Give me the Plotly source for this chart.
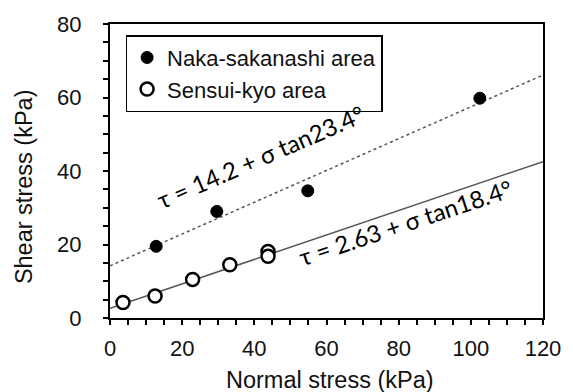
import plotly.graph_objects as go

# Data
naka_x = [12.8, 29.6, 54.8, 102.5]
naka_y = [19.5, 29.0, 34.6, 59.8]
sensui_x = [3.6, 12.5, 22.9, 33.2, 43.8, 43.8]
sensui_y = [4.2, 6.0, 10.5, 14.5, 18.1, 16.8]

fit_x = [0, 120]
naka_fit_y = [14.2, 66.1]
sensui_fit_y = [2.63, 42.55]

naka_label = "τ = 14.2 + σ tan23.4°"
sensui_label = "τ = 2.63 + σ tan18.4°"

FONT = "Liberation Sans, Arial, sans-serif"
EQFONT = "Lato, Carlito, Calibri, sans-serif"

fig = go.Figure()
fig.add_trace(go.Scatter(x=fit_x, y=naka_fit_y, mode="lines", showlegend=False,
                         line=dict(color="#555555", width=1.5, dash="3px,3px"), hoverinfo="skip"))
fig.add_trace(go.Scatter(x=fit_x, y=sensui_fit_y, mode="lines", showlegend=False,
                         line=dict(color="#555555", width=1.5), hoverinfo="skip"))
fig.add_trace(go.Scatter(x=naka_x, y=naka_y, mode="markers", name="Naka-sakanashi area",
                         marker=dict(symbol="circle", size=12, color="black",
                                     line=dict(color="black", width=1))))
fig.add_trace(go.Scatter(x=sensui_x, y=sensui_y, mode="markers", name="Sensui-kyo area",
                         marker=dict(symbol="circle", size=13, color="white",
                                     line=dict(color="black", width=2.5))))

axis_common = dict(
    showgrid=False, zeroline=False, showline=True, linecolor="black", linewidth=2,
    mirror=True, ticks="outside", ticklen=5, tickwidth=1.5, tickcolor="black",
    tickfont=dict(family=FONT, size=22, color="#111111"),
    minor=dict(ticks="outside", ticklen=5, tickwidth=1.5, tickcolor="black", dtick=5),
)

fig.update_xaxes(range=[0, 120], dtick=20, tick0=0, ticklabelstandoff=5, **axis_common)
fig.update_yaxes(range=[0, 80], dtick=20, tick0=0, ticklabelstandoff=17, **axis_common)

fig.add_annotation(text=naka_label, x=41.8, y=44.0, xref="x", yref="y", showarrow=False,
                   textangle=-23.4, font=dict(family=EQFONT, size=24, color="black"))
fig.add_annotation(text=sensui_label, x=81.8, y=26.0, xref="x", yref="y", showarrow=False,
                   textangle=-18.4, font=dict(family=EQFONT, size=24, color="black"))

fig.add_annotation(text="Shear stress (kPa)", xref="paper", yref="paper", x=-0.199, y=0.448,
                   showarrow=False, textangle=-90, xanchor="center", yanchor="middle",
                   font=dict(family=FONT, size=23.5, color="#111111"))
fig.add_annotation(text="Normal stress (kPa)", xref="paper", yref="paper", x=0.507, y=-0.212,
                   showarrow=False, xanchor="center", yanchor="middle",
                   font=dict(family=FONT, size=23.5, color="#111111"))

fig.update_layout(
    width=573, height=392,
    margin=dict(l=110, r=20, t=23, b=74),
    plot_bgcolor="white", paper_bgcolor="white",
    showlegend=True,
    legend=dict(x=0.036, y=0.962, xanchor="left", yanchor="top",
                bordercolor="black", borderwidth=1.5, bgcolor="white",
                font=dict(family=FONT, size=22, color="#111111"),
                itemwidth=30, tracegroupgap=0),
)

fig.write_html("out.html")
